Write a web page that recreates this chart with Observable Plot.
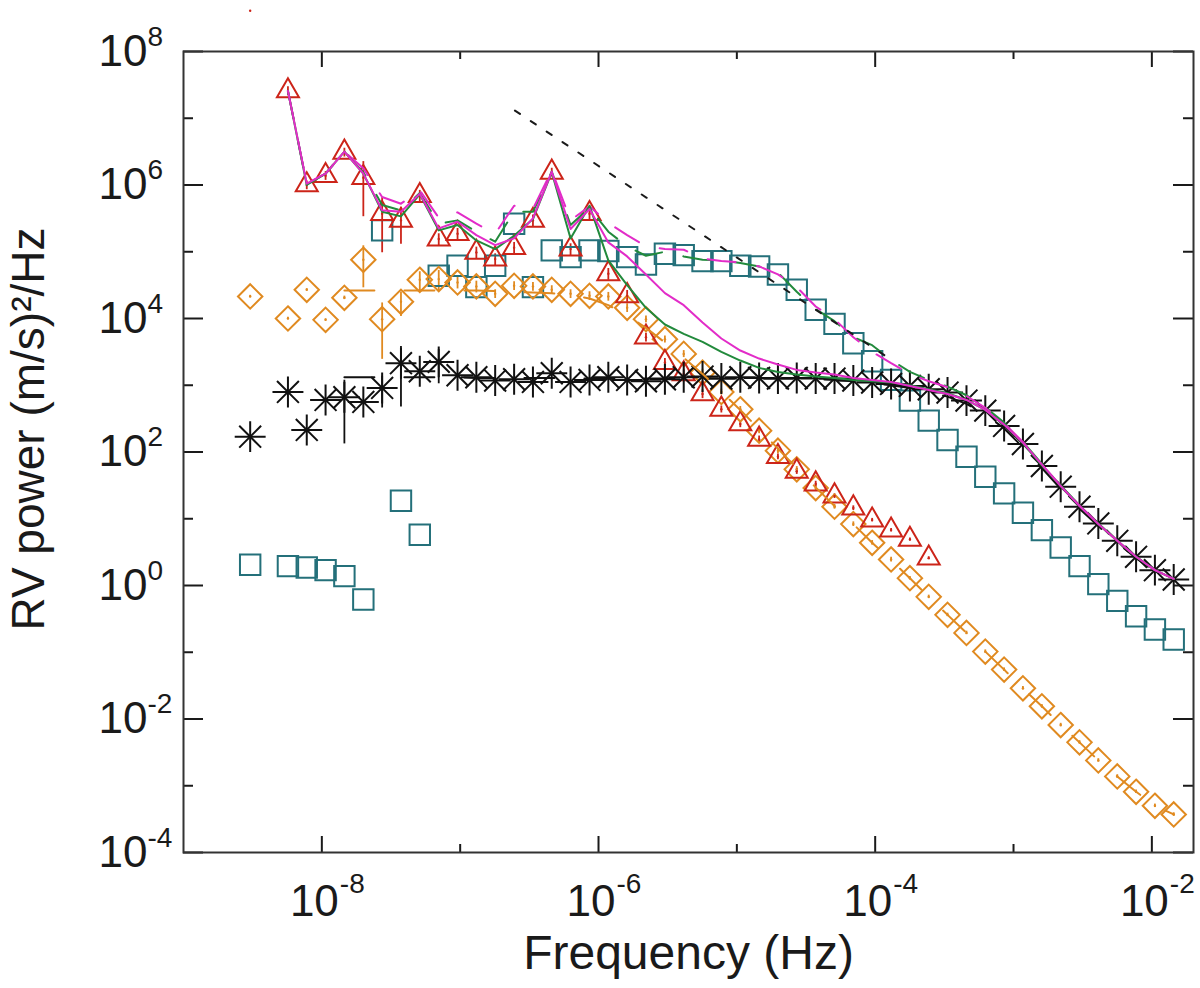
<!DOCTYPE html>
<html>
<head>
<meta charset="utf-8">
<script src="https://cdn.jsdelivr.net/npm/d3@7"></script>
<script src="https://cdn.jsdelivr.net/npm/@observablehq/plot@0.6"></script>
<style>
  html, body { margin: 0; padding: 0; background: #fff; }
  #chart { width: 1200px; height: 988px; }
</style>
</head>
<body>
<div id="chart"></div>
<script>
// log10 of frequency (Hz) for the common binning grid shared by all series
const logFreq = [
  -8.518, -8.382, -8.245, -8.109, -7.973, -7.837, -7.700, -7.564, -7.428, -7.292,
  -7.155, -7.019, -6.883, -6.747, -6.610, -6.474, -6.338, -6.202, -6.065, -5.929,
  -5.793, -5.657, -5.520, -5.384, -5.248, -5.112, -4.975, -4.839, -4.703, -4.567,
  -4.430, -4.294, -4.158, -4.022, -3.885, -3.749, -3.613, -3.477, -3.340, -3.204,
  -3.068, -2.932, -2.795, -2.659, -2.523, -2.387, -2.250, -2.114, -1.978, -1.842
];

// log10 RV power, (m/s)^2/Hz, one value per grid bin (null = no point)
const triangles = [
  8.61, null, 7.41, 6.00, 6.14, 6.49, 6.11, 5.57, 5.47, 5.84,
  5.19, 5.27, 4.99, 4.89, 5.06, 5.47, 6.19, 5.04, 5.57, 4.67,
  4.34, 3.72, 3.34, 3.17, 2.87, 2.64, 2.42, 2.19, 1.93, 1.71,
  1.52, 1.34, 1.16, 0.98, 0.83, 0.69, 0.41, null, null, null,
  null, null, null, null, null, null, null, null, null, null
];
const diamonds = [
  4.33, null, 4.00, 4.43, 3.98, 4.31, 4.88, 3.99, 4.25, 4.58,
  4.59, 4.54, 4.48, 4.37, 4.49, 4.48, 4.43, 4.37, 4.34, 4.33,
  4.16, 3.99, 3.69, 3.47, 3.19, 2.90, 2.64, 2.32, 2.02, 1.74,
  1.46, 1.18, 0.92, 0.64, 0.39, 0.11, -0.17, -0.44, -0.71, -0.99,
  -1.26, -1.54, -1.81, -2.09, -2.35, -2.62, -2.86, -3.09, -3.30, -3.43
];
const asterisks = [
  2.23, null, 2.90, 2.33, 2.78, 2.82, 2.75, 2.96, 3.33, 3.21,
  3.35, 3.15, 3.12, 3.07, 3.09, 3.05, 3.18, 3.05, 3.08, 3.12,
  3.08, 3.06, 3.09, 3.12, 3.13, 3.10, 3.12, 3.11, 3.10, 3.11,
  3.10, 3.10, 3.07, 3.04, 3.02, 2.99, 2.94, 2.89, 2.77, 2.62,
  2.39, 2.12, 1.79, 1.48, 1.18, 0.93, 0.67, 0.43, 0.23, 0.09
];
const squares = [
  0.31, null, 0.29, 0.27, 0.23, 0.14, -0.21, 5.32, 1.27, 0.76,
  4.64, 4.79, 4.47, 4.79, 5.42, 4.47, 5.02, 4.92, 5.02, 5.01,
  4.92, 4.81, 4.97, 4.95, 4.86, 4.86, 4.79, 4.78, 4.66, 4.43,
  4.13, 3.92, 3.63, 3.36, 3.08, 2.77, 2.47, 2.18, 1.93, 1.63,
  1.38, 1.09, 0.83, 0.57, 0.29, 0.02, -0.23, -0.46, -0.66, -0.81
];

// relative 1-sigma errors (sigma / power) for the error bars
const triErr = [
  null, null, 0.15, 0.15, 0.15, 0.15, 0.74, 0.74, 0.56, 0.2,
  0.2, 0.2, 0.2, 0.2, 0.2, 0.2, 0.15, 0.2, 0.2, 0.2,
  0.2, 0.15, 0.15, 0.15, 0.15, 0.12, 0.12, 0.12, 0.1, 0.1,
  0.1, 0.08, 0.08, 0.06, 0.06, 0.05, 0.05, null, null, null,
  null, null, null, null, null, null, null, null, null, null
];
const diaErr = [
  0.04, null, 0.04, 0.04, 0.04, 0.06, 0.62, 0.75, 0.4, 0.32,
  0.35, 0.2, 0.2, 0.15, 0.15, 0.15, 0.15, 0.15, 0.15, 0.15,
  0.15, 0.12, 0.12, 0.12, 0.12, 0.1, 0.1, 0.1, 0.1, 0.1,
  0.08, 0.08, 0.08, 0.08, 0.08, 0.06, 0.06, 0.06, 0.06, 0.06,
  0.06, 0.06, 0.06, 0.06, 0.06, 0.06, 0.06, 0.06, 0.06, 0.06
];
const astErr = [
  null, null, null, null, null, 0.8, null, 0.5, 0.78, null,
  0.53, null, null, null, null, null, null, null, null, null,
  null, null, null, null, null, null, null, null, null, null,
  null, null, null, null, null, null, null, null, null, null,
  null, null, null, null, null, null, null, null, null, null
];

// summed model curves, log10 power on the same grid
const totalMagenta = [
  null, null, 7.41, 6.02, 6.17, 6.50, 6.17, 5.62, 5.60, 5.87,
  5.35, 5.45, 5.25, 5.10, 5.20, 5.50, 6.20, 5.34, 5.64, 5.14,
  4.93, 4.66, 4.38, 4.20, 3.94, 3.70, 3.52, 3.40, 3.31, 3.23,
  3.19, 3.16, 3.11, 3.08, 3.05, 2.99, 2.93, 2.87, 2.78, 2.63,
  2.41, 2.14, 1.81, 1.49, 1.19, 0.92, 0.67, 0.43, 0.23, 0.10
];
const totalGreen = [
  null, null, 7.41, 6.00, 6.17, 6.50, 6.17, 5.60, 5.53, 5.86,
  5.32, 5.40, 5.17, 5.04, 5.24, 5.49, 6.19, 5.20, 5.69, 4.87,
  4.50, 4.16, 3.91, 3.77, 3.65, 3.50, 3.37, 3.26, 3.20, 3.16,
  3.13, 3.11, 3.08, 3.06, 3.04, 3.00, 2.94, 2.88, 2.78, 2.63,
  2.41, 2.13, 1.80, 1.49, 1.19, 0.92, 0.67, 0.43, 0.23, 0.10
];
const totalMagentaAll = [
  null, null, 7.41, 6.02, 6.17, 6.50, 6.25, 5.82, 5.72, 5.92,
  5.51, 5.59, 5.42, 5.27, 5.69, 5.64, 6.22, 5.47, 5.68, 5.43,
  5.25, 5.08, 5.04, 5.03, 4.90, 4.86, 4.84, 4.78, 4.66, 4.47,
  4.18, 3.99, 3.72, 3.50, 3.33, 3.17, 3.06, 2.97, 2.84, 2.66,
  2.43, 2.15, 1.81, 1.50, 1.20, 0.93, 0.67, 0.43, 0.23, 0.10
];
const totalGreenAll = [
  null, null, 7.41, 6.01, 6.17, 6.50, 6.19, 5.70, 5.62, 5.88,
  5.42, 5.47, 5.30, 5.15, 5.60, 5.60, 6.20, 5.40, 5.66, 5.30,
  5.08, 4.94, 5.00, 4.93, 4.88, 4.87, 4.83, 4.78, 4.69, 4.40,
  4.14, 3.96, 3.72, 3.60, 3.38, 3.20, 3.08, 2.98, 2.85, 2.67,
  2.44, 2.15, 1.82, 1.50, 1.20, 0.93, 0.67, 0.43, 0.23, 0.10
];
// single-component models (dashed)
const asteriskModel = [
  null, null, null, null, null, 3.12, 3.12, 3.12, 3.12, 3.12,
  3.12, 3.12, 3.11, 3.11, 3.11, 3.11, 3.11, 3.10, 3.10, 3.10,
  3.10, 3.10, 3.10, 3.10, 3.10, 3.10, 3.10, 3.10, 3.10, 3.10,
  3.09, 3.08, 3.06, 3.03, 3.00, 2.96, 2.90, 2.83, 2.72, 2.57,
  2.35, 2.07, 1.76, 1.45, 1.15, 0.89, 0.64, 0.41, 0.21, 0.07
];
const diamondModel = [
  null, null, null, null, null, 4.42, 4.42, 4.42, 4.42, 4.42,
  4.42, 4.42, 4.42, 4.41, 4.40, 4.39, 4.38, 4.35, 4.30, 4.20,
  4.05, 3.86, 3.64, 3.41, 3.17, 2.90, 2.63, 2.34, 2.05, 1.76,
  1.47, 1.19, 0.92, 0.64, 0.38, 0.11, -0.17, -0.44, -0.71, -0.99,
  -1.26, -1.54, -1.81, -2.09, -2.35, -2.62, -2.86, -3.09, -3.30, -3.43
];
// power-law guide line: [log10 f, log10 power] at its two ends
const slopeGuide = [[-6.604, 7.115], [-3.908, 3.415]];

// axis decades
const xMajor = [-8, -6, -4, -2];
const xMinor = [-7, -5, -3];
const yMajor = [8, 6, 4, 2, 0, -2, -4];
const yMinor = [7, 5, 3, 1, -1, -3];

(function () {
  "use strict";
  const W = 1200, H = 988;
  const mL = 183, mR = 7, mT = 51, mB = 136;
  const plotW = W - mL - mR, plotH = H - mT - mB;
  const ink = "#1a1a1a";
  const c = {
    tri: "#cc2419", dia: "#e08a20", ast: "#111111", sq: "#24707a",
    magenta: "#e22cc8", green: "#228a3c"
  };
  const font = "'Liberation Sans', Arial, Helvetica, sans-serif";

  // grid values -> plot rows (linear units)
  const pts = function (vals) {
    const out = [];
    vals.forEach(function (v, i) {
      if (v != null) out.push({ f: 10 ** logFreq[i], p: 10 ** v });
    });
    return out;
  };
  const bars = function (vals, errs) {
    const out = [];
    vals.forEach(function (v, i) {
      if (v == null || errs[i] == null) return;
      const p = 10 ** v;
      out.push({ f: 10 ** logFreq[i], lo: Math.max(1e-4, p * (1 - errs[i])), hi: p * (1 + errs[i]) });
    });
    return out;
  };

  const triPts = pts(triangles);
  const triInside = triPts.filter(function (d) { return d.p <= 1e8; });
  const diaPts = pts(diamonds);
  const astPts = pts(asterisks);
  const sqPts = pts(squares);
  const guide = slopeGuide.map(function (d) { return { f: 10 ** d[0], p: 10 ** d[1] }; });

  const pow = function (d) { return 10 ** d; };
  const line = function (vals, stroke, dash) {
    return Plot.line(pts(vals), {
      x: "f", y: "p", stroke: stroke, strokeWidth: 2,
      strokeDasharray: dash, strokeLinejoin: "round"
    });
  };

  const chart = Plot.plot({
    width: W,
    height: H,
    marginLeft: mL,
    marginRight: mR,
    marginTop: mT,
    marginBottom: mB,
    style: { background: "#fff", color: ink, fontFamily: font, overflow: "visible" },
    x: { type: "log", domain: [1e-9, 2e-2], axis: null },
    y: { type: "log", domain: [1e-4, 1e8], axis: null },
    marks: [
      // inward ticks on all four sides (IDL style)
      Plot.ruleX(xMajor, { x: pow, insetTop: plotH - 16, stroke: ink, strokeWidth: 2 }),
      Plot.ruleX(xMajor, { x: pow, insetBottom: plotH - 16, stroke: ink, strokeWidth: 2 }),
      Plot.ruleX(xMinor, { x: pow, insetTop: plotH - 8, stroke: ink, strokeWidth: 2 }),
      Plot.ruleX(xMinor, { x: pow, insetBottom: plotH - 8, stroke: ink, strokeWidth: 2 }),
      Plot.ruleY(yMajor, { y: pow, insetRight: plotW - 20, stroke: ink, strokeWidth: 2 }),
      Plot.ruleY(yMajor, { y: pow, insetLeft: plotW - 20, stroke: ink, strokeWidth: 2 }),
      Plot.ruleY(yMinor, { y: pow, insetRight: plotW - 10, stroke: ink, strokeWidth: 2 }),
      Plot.ruleY(yMinor, { y: pow, insetLeft: plotW - 10, stroke: ink, strokeWidth: 2 }),
      Plot.frame({ stroke: "#333", strokeWidth: 2 }),

      // error bars
      Plot.ruleX(bars(diamonds, diaErr), { x: "f", y1: "lo", y2: "hi", stroke: c.dia, strokeWidth: 1.8 }),
      Plot.ruleX(bars(triangles, triErr), { x: "f", y1: "lo", y2: "hi", stroke: c.tri, strokeWidth: 1.8 }),
      Plot.ruleX(bars(asterisks, astErr), { x: "f", y1: "lo", y2: "hi", stroke: c.ast, strokeWidth: 1.8 }),

      // data symbols
      Plot.dot(sqPts, { x: "f", y: "p", symbol: "square2", r: 13, stroke: c.sq, strokeWidth: 2, fill: "none" }),
      Plot.dot(diaPts, { x: "f", y: "p", symbol: "diamond2", r: 11, stroke: c.dia, strokeWidth: 2, fill: "none" }),
      Plot.dot(diaPts, { x: "f", y: "p", r: 1.2, fill: c.dia, stroke: "none" }),
      Plot.dot(triInside, { x: "f", y: "p", symbol: "triangle2", r: 10.5, stroke: c.tri, strokeWidth: 2, fill: "none" }),
      Plot.dot(triPts, { x: "f", y: "p", r: 1.2, fill: c.tri, stroke: "none" }),
      Plot.dot(astPts, { x: "f", y: "p", symbol: "plus", r: 10, stroke: c.ast, strokeWidth: 2 }),
      Plot.dot(astPts, { x: "f", y: "p", symbol: "times", r: 10, stroke: c.ast, strokeWidth: 2 }),

      // component models (dashed)
      line(asteriskModel, c.ast, "30,30"),
      line(diamondModel, c.dia, "30,30"),

      // summed models
      line(totalGreenAll, c.green, "28,22"),
      line(totalMagentaAll, c.magenta, "28,22"),
      line(totalGreen, c.green, null),
      line(totalMagenta, c.magenta, null),

      // power-law guide
      Plot.line(guide, { x: "f", y: "p", stroke: ink, strokeWidth: 2, strokeDasharray: "6,13" }),

      // tick labels: "10" plus a raised exponent
      Plot.text(yMajor, {
        y: pow, text: function () { return "10"; }, frameAnchor: "left",
        textAnchor: "start", lineAnchor: "middle", dx: -85, fontSize: 44, fill: ink
      }),
      Plot.text(yMajor, {
        y: pow, text: function (d) { return String(d); }, frameAnchor: "left",
        textAnchor: "start", lineAnchor: "bottom", dx: -36, dy: -6, fontSize: 28, fill: ink
      }),
      Plot.text(xMajor, {
        x: pow, text: function () { return "10"; }, frameAnchor: "bottom",
        textAnchor: "end", lineAnchor: "bottom", dx: 17, dy: 63, fontSize: 44, fill: ink
      }),
      Plot.text(xMajor, {
        x: pow, text: function (d) { return String(d); }, frameAnchor: "bottom",
        textAnchor: "start", lineAnchor: "bottom", dx: 18, dy: 40, fontSize: 28, fill: ink
      }),

      // axis titles
      Plot.text(["Frequency (Hz)"], {
        frameAnchor: "bottom", lineAnchor: "bottom", dy: 116, fontSize: 48, fill: ink
      }),
      Plot.text(["RV power (m/s)\u00b2/Hz"], {
        frameAnchor: "left", rotate: -90, textAnchor: "middle", lineAnchor: "bottom",
        dx: -140, dy: -23, fontSize: 46, fill: ink
      })
    ]
  });

  document.getElementById("chart").appendChild(chart);
})();
</script>
</body>
</html>
